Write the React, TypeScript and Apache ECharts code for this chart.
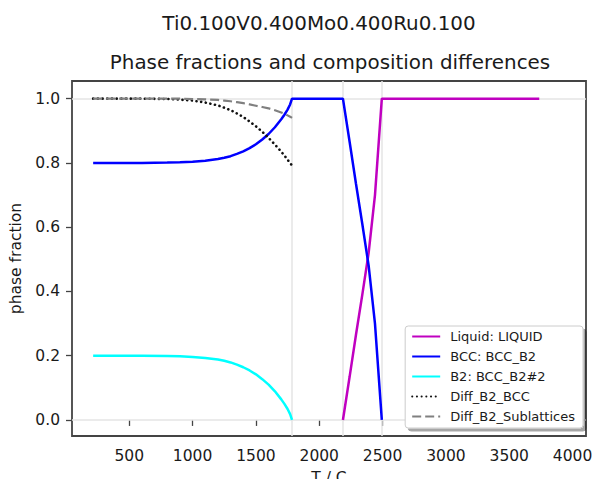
import React, { useEffect, useRef } from "react";
import * as echarts from "echarts";

// Temperatures (°C) and phase data
const tSolid = [215, 400, 600, 800, 900, 1000, 1100, 1200, 1250, 1300, 1350, 1400, 1450, 1500, 1550, 1600, 1650, 1700, 1725, 1750, 1770, 1785];
const b2Frac = [0.2, 0.2, 0.2, 0.199, 0.198, 0.196, 0.193, 0.188, 0.184, 0.179, 0.172, 0.164, 0.154, 0.142, 0.127, 0.11, 0.089, 0.064, 0.05, 0.034, 0.018, 0];
const diffB2Bcc = [1.0, 1.0, 1.0, 0.999, 0.997, 0.994, 0.988, 0.979, 0.972, 0.964, 0.954, 0.943, 0.929, 0.914, 0.897, 0.878, 0.857, 0.835, 0.823, 0.81, 0.8, 0.792];
const diffB2Sub = [1.0, 1.0, 1.0, 1.0, 1.0, 0.999, 0.998, 0.996, 0.994, 0.992, 0.989, 0.986, 0.982, 0.978, 0.974, 0.97, 0.964, 0.957, 0.953, 0.948, 0.944, 0.94];

const tBcc = [215, 400, 600, 800, 900, 1000, 1100, 1200, 1250, 1300, 1350, 1400, 1450, 1500, 1550, 1600, 1650, 1700, 1725, 1750, 1770, 1785, 2187, 2240, 2290, 2340, 2390, 2440, 2494];
const bccFrac = [0.8, 0.8, 0.8, 0.801, 0.802, 0.804, 0.807, 0.812, 0.816, 0.821, 0.828, 0.836, 0.846, 0.858, 0.873, 0.89, 0.911, 0.936, 0.95, 0.966, 0.982, 1.0, 1.0, 0.865, 0.735, 0.61, 0.48, 0.3, 0];

const tLiquid = [2187, 2240, 2290, 2340, 2390, 2440, 2494, 3737];
const liquidFrac = [0, 0.135, 0.265, 0.39, 0.52, 0.7, 1.0, 1.0];

const phaseBoundaries = [1785, 2187, 2494];
const refLevels = [0, 1];

const xTicks = [500, 1000, 1500, 2000, 2500, 3000, 3500, 4000];
const yTicks = [0, 0.2, 0.4, 0.6, 0.8, 1.0];

const seriesNames = ["Liquid: LIQUID", "BCC: BCC_B2", "B2: BCC_B2#2", "Diff_B2_BCC", "Diff_B2_Sublattices"];

const FONT = "DejaVu Sans";
const TXT = "#1a1a1a";

const pairs = (xs: number[], ys: number[]) => xs.map((x, i) => [x, ys[i]]);

export default function App() {
  const ref = useRef<HTMLDivElement>(null);
  useEffect(() => {
    if (!ref.current) return;
    const chart = echarts.init(ref.current, undefined, { renderer: "svg" });
    const lineBase = { type: "line" as const, showSymbol: false, symbol: "none", silent: true, z: 3 };
    chart.setOption({
      animation: false,
      graphic: [
        {
          type: "text",
          x: 319,
          y: 23,
          style: { text: "Ti0.100V0.400Mo0.400Ru0.100", fontFamily: FONT, fontSize: 19.9, fill: TXT, align: "center", verticalAlign: "middle" },
        },
        {
          type: "text",
          x: 330,
          y: 62,
          style: { text: "Phase fractions and composition differences", fontFamily: FONT, fontSize: 19.9, fill: TXT, align: "center", verticalAlign: "middle" },
        },
      ],
      grid: {
        left: 72,
        top: 81,
        right: 10,
        bottom: 43,
        show: true,
        borderColor: "#444",
        borderWidth: 1.8,
        backgroundColor: "transparent",
        outerBoundsMode: "none",
        containLabel: false,
      },
      xAxis: {
        type: "value",
        min: 48,
        max: 4106,
        axisLine: { show: false },
        splitLine: { show: false },
        axisTick: { customValues: xTicks, length: 6, lineStyle: { color: "#444", width: 1.3 } },
        axisLabel: { customValues: xTicks, margin: 12, fontSize: 15.5, fontFamily: FONT, color: TXT, formatter: (v: number) => String(v) },
        name: "T / C",
        nameLocation: "middle",
        nameGap: 34,
        nameTextStyle: { fontSize: 15.5, fontFamily: FONT, color: TXT, verticalAlign: "top" },
      },
      yAxis: {
        type: "value",
        min: -0.05,
        max: 1.055,
        axisLine: { show: false },
        splitLine: { show: false },
        axisTick: { customValues: yTicks, length: 6, lineStyle: { color: "#444", width: 1.3 } },
        axisLabel: { customValues: yTicks, margin: 12, fontSize: 15.5, fontFamily: FONT, color: TXT, formatter: (v: number) => v.toFixed(1) },
        name: "phase fraction",
        nameLocation: "middle",
        nameGap: 46,
        nameTextStyle: { fontSize: 15.5, fontFamily: FONT, color: TXT },
      },
      legend: {
        orient: "vertical",
        right: 13,
        bottom: 51,
        data: seriesNames,
        itemWidth: 28,
        itemHeight: 12,
        itemGap: 7,
        itemStyle: { color: "transparent", borderColor: "transparent", borderWidth: 0 },
        textStyle: { fontFamily: FONT, fontSize: 13, color: TXT, padding: [0, 0, 0, 5] },
        backgroundColor: "#fff",
        borderColor: "#cccccc",
        borderWidth: 1,
        borderRadius: 3,
        padding: [4, 8, 5, 6],
        shadowColor: "rgba(0,0,0,0.35)",
        shadowOffsetX: 3,
        shadowOffsetY: 3,
        shadowBlur: 0,
      },
      series: [
        {
          type: "line",
          name: "refs",
          data: [],
          silent: true,
          z: 1,
          markLine: {
            silent: true,
            z: 1,
            symbol: ["none", "none"],
            label: { show: false },
            lineStyle: { color: "#e4e4e4", width: 1.5, type: "solid" },
            data: [
              ...phaseBoundaries.map((v) => ({ xAxis: v })),
              ...refLevels.map((v) => ({ yAxis: v })),
            ],
          },
        },
        { ...lineBase, name: seriesNames[0], data: pairs(tLiquid, liquidFrac), lineStyle: { color: "#c000c0", width: 2.5 }, itemStyle: { color: "#c000c0" } },
        { ...lineBase, name: seriesNames[1], data: pairs(tBcc, bccFrac), lineStyle: { color: "#0000ff", width: 2.5 }, itemStyle: { color: "#0000ff" } },
        { ...lineBase, name: seriesNames[2], data: pairs(tSolid, b2Frac), lineStyle: { color: "#00ffff", width: 2.5 }, itemStyle: { color: "#00ffff" } },
        { ...lineBase, name: seriesNames[3], data: pairs(tSolid, diffB2Bcc), lineStyle: { color: "#111", width: 2.6, type: [0.1, 4.6], cap: "round" }, itemStyle: { color: "#111" } },
        { ...lineBase, name: seriesNames[4], data: pairs(tSolid, diffB2Sub), lineStyle: { color: "#808080", width: 2.2, type: [9, 4] }, itemStyle: { color: "#808080" } },
      ],
    });
    return () => chart.dispose();
  }, []);
  return <div ref={ref} style={{ position: "absolute", left: 0, top: 0, width: 596, height: 479 }} />;
}
